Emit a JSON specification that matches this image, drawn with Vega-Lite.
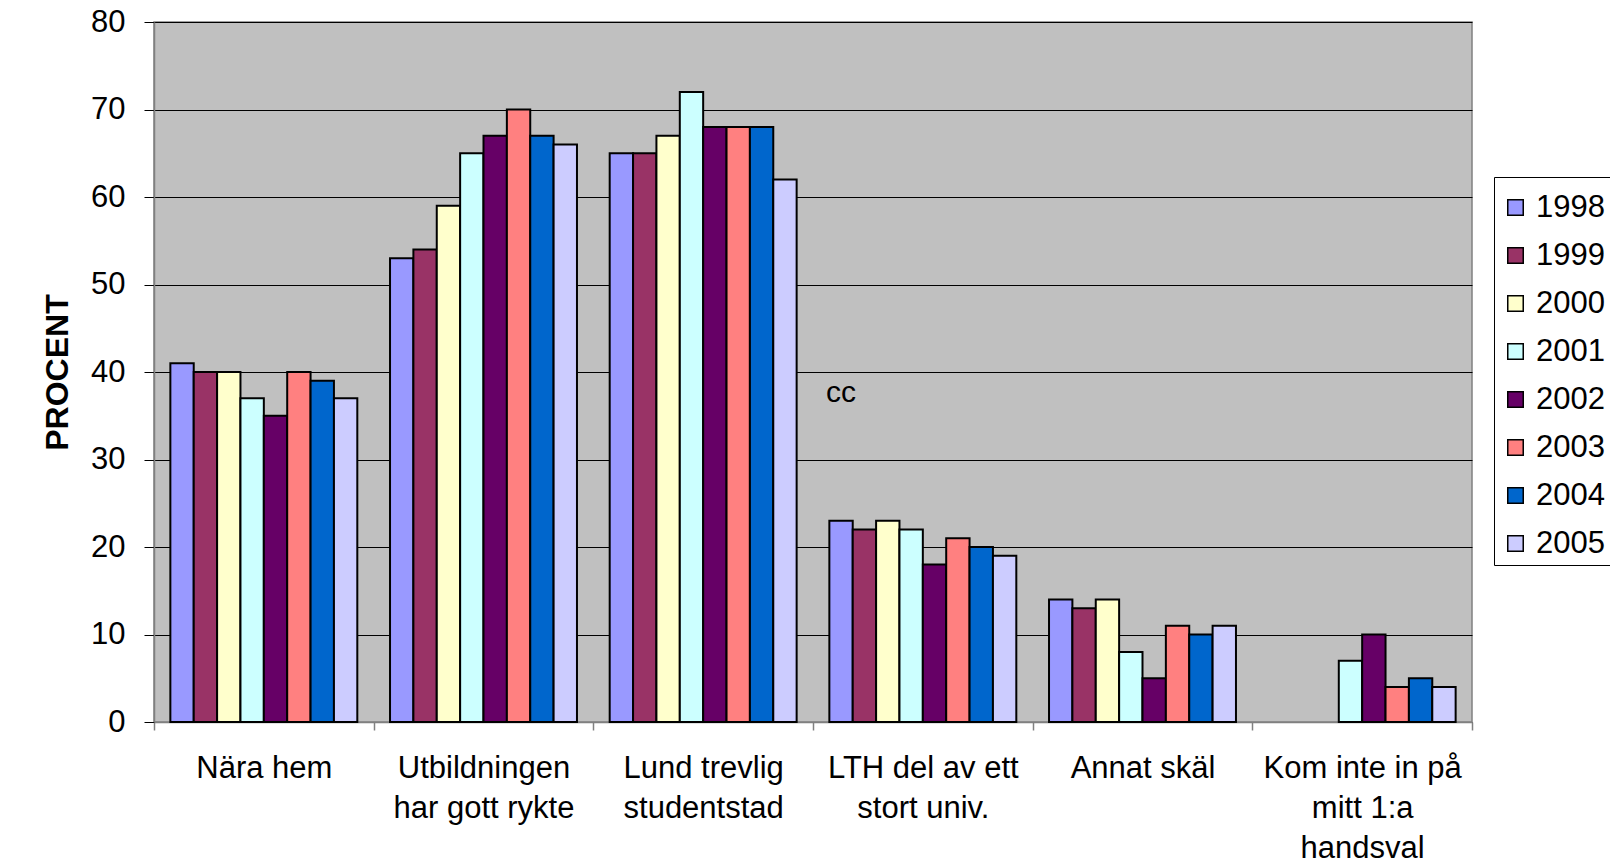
{
  "$schema": "https://vega.github.io/schema/vega-lite/v6.json",
  "autosize": "none",
  "width": 1318,
  "height": 700,
  "padding": {"left": 154, "top": 22, "right": 138, "bottom": 142},
  "background": "white",
  "config": {
    "font": "Liberation Sans",
    "view": {"fill": "#C0C0C0", "stroke": "#808080", "strokeWidth": 1.5}
  },
  "datasets": {
    "bars": [
      {"reason": "Nära hem", "year": "1998", "percent": 41},
      {"reason": "Nära hem", "year": "1999", "percent": 40},
      {"reason": "Nära hem", "year": "2000", "percent": 40},
      {"reason": "Nära hem", "year": "2001", "percent": 37},
      {"reason": "Nära hem", "year": "2002", "percent": 35},
      {"reason": "Nära hem", "year": "2003", "percent": 40},
      {"reason": "Nära hem", "year": "2004", "percent": 39},
      {"reason": "Nära hem", "year": "2005", "percent": 37},
      {"reason": "Utbildningen har gott rykte", "year": "1998", "percent": 53},
      {"reason": "Utbildningen har gott rykte", "year": "1999", "percent": 54},
      {"reason": "Utbildningen har gott rykte", "year": "2000", "percent": 59},
      {"reason": "Utbildningen har gott rykte", "year": "2001", "percent": 65},
      {"reason": "Utbildningen har gott rykte", "year": "2002", "percent": 67},
      {"reason": "Utbildningen har gott rykte", "year": "2003", "percent": 70},
      {"reason": "Utbildningen har gott rykte", "year": "2004", "percent": 67},
      {"reason": "Utbildningen har gott rykte", "year": "2005", "percent": 66},
      {"reason": "Lund trevlig studentstad", "year": "1998", "percent": 65},
      {"reason": "Lund trevlig studentstad", "year": "1999", "percent": 65},
      {"reason": "Lund trevlig studentstad", "year": "2000", "percent": 67},
      {"reason": "Lund trevlig studentstad", "year": "2001", "percent": 72},
      {"reason": "Lund trevlig studentstad", "year": "2002", "percent": 68},
      {"reason": "Lund trevlig studentstad", "year": "2003", "percent": 68},
      {"reason": "Lund trevlig studentstad", "year": "2004", "percent": 68},
      {"reason": "Lund trevlig studentstad", "year": "2005", "percent": 62},
      {"reason": "LTH del av ett stort univ.", "year": "1998", "percent": 23},
      {"reason": "LTH del av ett stort univ.", "year": "1999", "percent": 22},
      {"reason": "LTH del av ett stort univ.", "year": "2000", "percent": 23},
      {"reason": "LTH del av ett stort univ.", "year": "2001", "percent": 22},
      {"reason": "LTH del av ett stort univ.", "year": "2002", "percent": 18},
      {"reason": "LTH del av ett stort univ.", "year": "2003", "percent": 21},
      {"reason": "LTH del av ett stort univ.", "year": "2004", "percent": 20},
      {"reason": "LTH del av ett stort univ.", "year": "2005", "percent": 19},
      {"reason": "Annat skäl", "year": "1998", "percent": 14},
      {"reason": "Annat skäl", "year": "1999", "percent": 13},
      {"reason": "Annat skäl", "year": "2000", "percent": 14},
      {"reason": "Annat skäl", "year": "2001", "percent": 8},
      {"reason": "Annat skäl", "year": "2002", "percent": 5},
      {"reason": "Annat skäl", "year": "2003", "percent": 11},
      {"reason": "Annat skäl", "year": "2004", "percent": 10},
      {"reason": "Annat skäl", "year": "2005", "percent": 11},
      {"reason": "Kom inte in på mitt 1:a handsval", "year": "2001", "percent": 7},
      {"reason": "Kom inte in på mitt 1:a handsval", "year": "2002", "percent": 10},
      {"reason": "Kom inte in på mitt 1:a handsval", "year": "2003", "percent": 4},
      {"reason": "Kom inte in på mitt 1:a handsval", "year": "2004", "percent": 5},
      {"reason": "Kom inte in på mitt 1:a handsval", "year": "2005", "percent": 4}
    ],
    "note": [
      {"reason": "LTH del av ett stort univ.", "year": "1998", "percent": 37.6, "text": "cc"}
    ]
  },
  "encoding": {
    "x": {
      "field": "reason",
      "type": "nominal",
      "sort": ["Nära hem", "Utbildningen har gott rykte", "Lund trevlig studentstad", "LTH del av ett stort univ.", "Annat skäl", "Kom inte in på mitt 1:a handsval"],
      "scale": {"paddingInner": 0, "paddingOuter": 0},
      "axis": {
        "title": null,
        "labelAngle": 0,
        "labelFontSize": 31,
        "labelColor": "black",
        "labelLineHeight": 40,
        "labelPadding": 23,
        "labelLimit": 0,
        "labelOverlap": false,
        "labelFlush": false,
        "tickBand": "extent",
        "tickSize": 8,
        "tickColor": "#808080",
        "tickWidth": 1.5,
        "domainColor": "#808080",
        "domainWidth": 1.5,
        "grid": false,
        "labelExpr": "datum.label == 'Utbildningen har gott rykte' ? ['Utbildningen', 'har gott rykte'] : datum.label == 'Lund trevlig studentstad' ? ['Lund trevlig', 'studentstad'] : datum.label == 'LTH del av ett stort univ.' ? ['LTH del av ett', 'stort univ.'] : datum.label == 'Kom inte in på mitt 1:a handsval' ? ['Kom inte in på', 'mitt 1:a', 'handsval'] : datum.label"
      }
    },
    "xOffset": {
      "field": "year",
      "type": "nominal",
      "scale": {"domain": ["1998", "1999", "2000", "2001", "2002", "2003", "2004", "2005"], "paddingInner": 0, "paddingOuter": 0.7}
    },
    "y": {
      "field": "percent",
      "type": "quantitative",
      "scale": {"domain": [0, 80], "nice": false},
      "axis": {
        "title": "PROCENT",
        "titleFontSize": 32,
        "titleFontWeight": "bold",
        "titleColor": "black",
        "titlePadding": 16,
        "values": [0, 10, 20, 30, 40, 50, 60, 70, 80],
        "labelFontSize": 31,
        "labelColor": "black",
        "labelPadding": 19,
        "tickSize": 10,
        "tickColor": "black",
        "tickWidth": 1,
        "domainColor": "#808080",
        "domainWidth": 1.5,
        "grid": true,
        "gridColor": "black",
        "gridWidth": 1,
        "gridOpacity": 1
      }
    }
  },
  "layer": [
    {
      "data": {"name": "bars"},
      "mark": {"type": "bar", "stroke": "black", "strokeWidth": 2},
      "encoding": {
        "color": {
          "field": "year",
          "type": "nominal",
          "scale": {
            "domain": ["1998", "1999", "2000", "2001", "2002", "2003", "2004", "2005"],
            "range": ["#9999FF", "#993366", "#FFFFCC", "#CCFFFF", "#660066", "#FF8080", "#0066CC", "#CCCCFF"]
          },
          "legend": {
            "title": " ",
            "titleFontSize": 4,
            "titlePadding": 5,
            "orient": "none",
            "legendX": 1340,
            "legendY": 155,
            "symbolType": "square",
            "symbolSize": 240,
            "symbolStrokeColor": "black",
            "symbolStrokeWidth": 1.5,
            "labelFontSize": 31,
            "labelColor": "black",
            "labelOffset": 5,
            "rowPadding": 16,
            "padding": 6,
            "strokeColor": "black",
            "fillColor": "white"
          }
        }
      }
    },
    {
      "data": {"name": "note"},
      "mark": {"type": "text", "fontSize": 30, "color": "black", "baseline": "middle", "align": "center"},
      "encoding": {
        "text": {"field": "text"}
      }
    }
  ]
}
